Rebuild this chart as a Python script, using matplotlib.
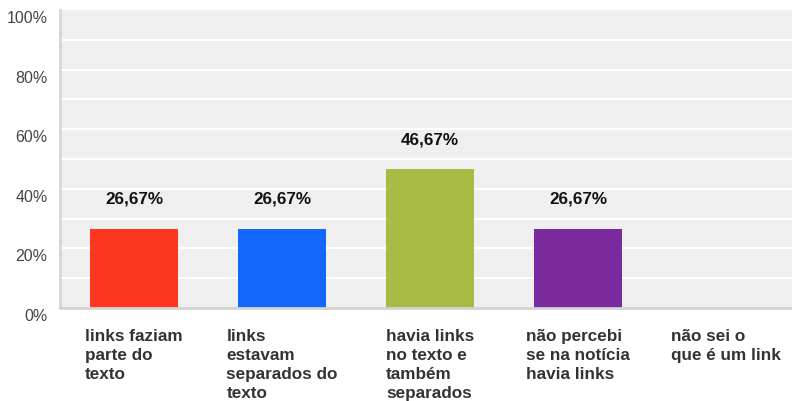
import numpy as np
import matplotlib.pyplot as plt
import matplotlib.transforms as mtransforms

plt.rcParams['font.family'] = ['Liberation Sans', 'DejaVu Sans']

# respostas da pergunta sobre os links
categorias = ['links faziam\nparte do\ntexto',
              'links\nestavam\nseparados do\ntexto',
              'havia links\nno texto e\ntambém\nseparados',
              'não percebi\nse na notícia\nhavia links',
              'não sei o\nque é um link']
valores = [26.67, 26.67, 46.67, 26.67, 0.0]
cores = ['#fe3620', '#1467fd', '#a9bb44', '#7a2a9c', '#cccccc']
yticks = [0, 20, 40, 60, 80, 100]

fig = plt.figure(figsize=(7.92, 4.01), dpi=100)
ax = fig.add_axes([60 / 792, 93 / 401, 740 / 792, 298 / 401])
ax.set_facecolor('#efefef')

x = np.arange(len(categorias))
ax.bar(x, valores, width=0.6, color=cores, zorder=3)

ax.set_xlim(-0.5, 4.5)
ax.set_ylim(0, 100)

# linhas de grade a cada 10%
for g in range(10, 100, 10):
    ax.axhline(g, color='white', lw=1.5, zorder=1)

for s in ['top', 'right']:
    ax.spines[s].set_visible(False)
ax.spines['left'].set_color('#d6d6d6')
ax.spines['left'].set_linewidth(2)
ax.spines['bottom'].set_color('#d3d3d3')
ax.spines['bottom'].set_linewidth(2)
ax.spines['left'].set_zorder(4)
ax.spines['bottom'].set_zorder(4)

ax.set_yticks(yticks)
ax.set_yticklabels([f'{t}%' for t in yticks], fontsize=11.5, color='#444444')
ax.tick_params(axis='y', length=0, pad=9)
desloc = mtransforms.ScaledTranslation(0, -7 / 100, fig.dpi_scale_trans)
for lab in ax.get_yticklabels():
    lab.set_transform(lab.get_transform() + desloc)

ax.set_xticks([])
for i, cat in enumerate(categorias):
    ax.annotate(cat, xy=(i, 0), xycoords=('data', 'axes fraction'),
                xytext=(0, -15), textcoords='offset points',
                ha='center', va='top', multialignment='left',
                fontsize=12.3, fontweight='bold', color='#333333',
                linespacing=1.33, annotation_clip=False)

for i, v in enumerate(valores):
    if v > 0:
        ax.annotate(f'{v:.2f}%'.replace('.', ','), xy=(i, v),
                    xytext=(0, 21), textcoords='offset points',
                    ha='center', va='center', fontsize=12.3,
                    fontweight='bold', color='#111111')

fig.savefig('out.png', dpi=100)
